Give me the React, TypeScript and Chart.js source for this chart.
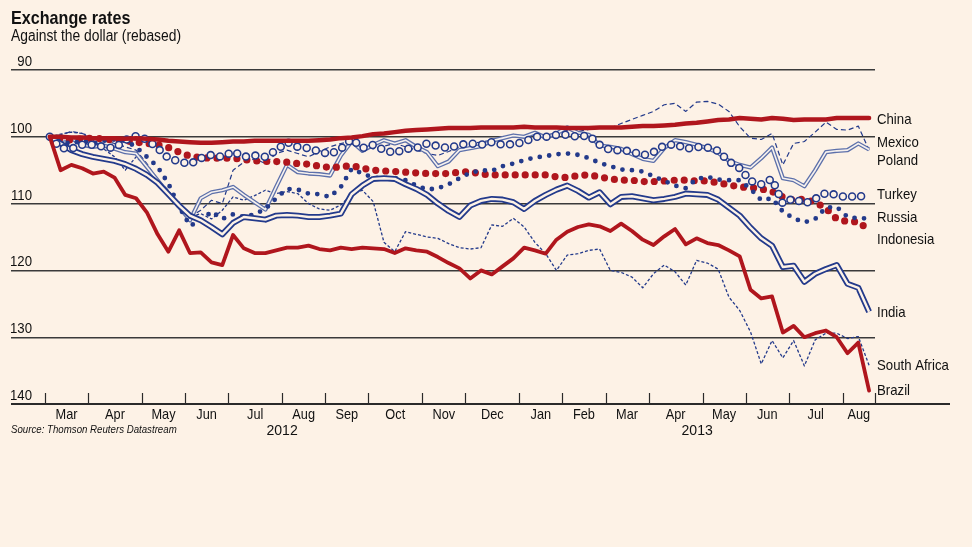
import React, { useEffect, useRef } from "react";
import { Chart, registerables } from "chart.js";

Chart.register(...registerables);

const FONT = '"Liberation Sans", Arial, sans-serif';
const BG = "#fdf2e6";
const RED = "#b0161d";
const BLUE = "#233a8b";
const POLAND_BLUE = "#5d70aa";
const INK = "#2a2a2a";

const TITLE = "Exchange rates";
const SUBTITLE = "Against the dollar (rebased)";
const SOURCE = "Source: Thomson Reuters Datastream";

// weekly observations, index 0 = first week of March 2012
const MONTH_LABELS = ["Mar", "Apr", "May", "Jun", "Jul", "Aug", "Sep", "Oct", "Nov", "Dec", "Jan", "Feb", "Mar", "Apr", "May", "Jun", "Jul", "Aug"];
const MONTH_BOUNDS = [0, 4, 9, 13, 17, 22, 26, 30, 35, 39, 44, 48, 52, 56, 61, 65, 69, 74, 77];
const YEAR_LABELS = ["2012", "2013"];
const YEAR_BOUNDS = [0, 44, 77];
const Y_MIN = 90;
const Y_MAX = 140;
const Y_STEP = 10;

const CHINA = [100, 100, 100.1, 100.1, 100.2, 100.2, 100.2, 100.3, 100.2, 100.3, 100.4, 100.6, 100.7, 100.8, 100.9, 100.9, 100.8, 100.7, 100.7, 100.6, 100.6, 100.6, 100.6, 100.6, 100.6, 100.5, 100.4, 100.2, 100.1, 99.9, 99.6, 99.5, 99.3, 99.1, 99.0, 98.9, 98.8, 98.7, 98.7, 98.7, 98.6, 98.6, 98.6, 98.6, 98.5, 98.6, 98.6, 98.6, 98.7, 98.7, 98.7, 98.6, 98.6, 98.6, 98.5, 98.4, 98.4, 98.3, 98.2, 98.0, 97.9, 97.7, 97.5, 97.4, 97.2, 97.3, 97.4, 97.2, 97.3, 97.5, 97.4, 97.4, 97.4, 97.2, 97.2, 97.2, 97.2];
const MEXICO = [100, 99.7, 99.2, 99.5, 100, 100.5, 101, 101.5, 102, 104, 106.5, 108, 110.5, 112, 111, 109.5, 110, 105, 103.8, 103.3, 104, 102.5, 102, 102.5, 103, 102.2, 101.5, 101, 100.7, 101.2, 101.8, 101.4, 101, 101.5, 102, 102.5, 102.8, 102.2, 101.5, 101, 100.8, 100.5, 100.2, 99.8, 100, 99.6, 99.8, 99.4, 99, 99.2, 98.9, 98.7, 98.7, 98, 97.4, 96.8, 96.2, 95.2, 95, 96.2, 94.8, 94.7, 95.1, 96.2, 98.5, 100.2, 100.4, 99.5, 104.2, 101, 100.7, 99.3, 97.8, 98.9, 99, 98.4, 102];
const POLAND = [100, 100.5, 100.2, 101.2, 101.5, 101.3, 101.8, 102.3, 102.5, 104.5, 106.5, 108.5, 110.5, 112.5, 109.2, 108.3, 108, 107.5, 108.7, 109.8, 110.9, 107.5, 104.2, 105.3, 105.5, 105.6, 105.8, 102.8, 100.7, 102.1, 101.2, 100.5, 101, 100.5, 101.5, 102.3, 104.4, 103.7, 102, 101.7, 101.4, 100.6, 100.2, 99.8, 100, 99.4, 100.1, 99.5, 98.6, 99.4, 99.7, 101.3, 101.5, 101.8, 102.6, 103.3, 103.6, 101.7, 100.5, 100.8, 101.2, 101.7, 102.4, 103.6, 104.2, 104.6, 103.2, 101.6, 106.2, 106.5, 107.4, 105, 102.3, 102.1, 102, 101, 101.9];
const TURKEY = [100, 101.7, 101.8, 101.2, 101.2, 101.5, 101.7, 100.5, 99.9, 100.4, 101.7, 103.2, 103.7, 104.1, 103.2, 102.7, 103, 102.2, 103, 102.8, 103, 102, 100.8, 101.5, 101.7, 102.2, 102.6, 101.8, 100.3, 101.7, 101.2, 102, 102.4, 101.8, 101.7, 101, 101.4, 101.7, 101.2, 101, 101.2, 100.8, 101.2, 101.1, 100.8, 100, 100, 99.7, 99.7, 100, 99.8, 101.2, 102, 102, 102.2, 102.8, 102.3, 101.3, 101.1, 101.8, 101.5, 101.6, 102.1, 103.7, 104.7, 106.6, 107.1, 106.3, 110, 109.2, 110, 109.3, 108.4, 108.7, 109.1, 108.7, 109.5];
const RUSSIA = [100, 100.8, 101, 100.6, 101, 100.6, 100.4, 100.6, 101.5, 103, 104.5, 107, 110.5, 113.3, 112.6, 111.2, 112.3, 111.6, 112, 111.6, 110.8, 109.2, 107.8, 107.9, 108.5, 108.6, 109, 107.5, 104.8, 105.5, 106.1, 106.2, 106.2, 106.5, 107.3, 107.9, 107.7, 107.1, 106.2, 105.4, 105, 105.1, 104.4, 104, 103.5, 103.1, 102.9, 102.6, 102.5, 102.7, 103.2, 103.9, 104.4, 104.9, 105, 105.2, 105.9, 106.6, 107.3, 107.7, 106.3, 106, 106.4, 106.5, 106.5, 107.8, 109.5, 109.2, 111.2, 112.2, 112.8, 112.3, 110.6, 110.5, 112, 112.2, 112.2];
const INDONESIA = [100, 100.3, 100.5, 100.3, 100.2, 100.3, 100.5, 100.6, 100.8, 101, 101.2, 101.6, 102.3, 102.9, 103.1, 103.2, 103.2, 103.2, 103.4, 103.6, 103.7, 103.7, 103.8, 104, 104.1, 104.4, 104.6, 104.5, 104.3, 104.7, 105, 105.1, 105.2, 105.3, 105.4, 105.5, 105.5, 105.5, 105.3, 105.2, 105.6, 105.7, 105.7, 105.7, 105.7, 105.7, 105.7, 106, 106.1, 105.8, 105.7, 106, 106.3, 106.5, 106.5, 106.7, 106.7, 106.6, 106.5, 106.5, 106.6, 106.6, 106.9, 107.2, 107.5, 107.6, 107.8, 108.2, 109, 109.5, 109.3, 109.8, 110.7, 112.3, 112.7, 112.7, 114];
const INDIA = [100, 101, 102, 102.6, 103, 103.3, 103.6, 104.1, 104.8, 105.7, 106.9, 108.6, 110.3, 111.8, 112.5, 113.5, 114.6, 112.9, 112, 112.2, 112.4, 111.8, 111.7, 111.8, 112, 112, 111.8, 111.5, 108.6, 107.3, 106.3, 106.2, 106.3, 107.1, 107.8, 108.7, 110, 111.1, 112, 110.3, 109.6, 109.3, 109.4, 109.8, 110.8, 109.6, 108.7, 107.9, 107.3, 108.1, 109.1, 108.3, 110.1, 109, 108.9, 109.2, 109.5, 109.3, 109, 108.5, 108.6, 108.7, 109.4, 110.6, 111.8, 113.6, 115.2, 116.3, 119.5, 119.3, 121.7, 120.5, 119.8, 119.2, 122, 122.6, 126.2];
const SOUTH_AFRICA = [100, 99.6, 99.3, 99.5, 100.5, 101.8, 103, 105, 103, 104.5, 107, 108.5, 110.5, 112, 111.5, 112.3, 111, 109, 109.5, 108.8, 108, 108.5, 108.2, 108.5, 110, 110.8, 111, 110.2, 108.6, 108, 109.7, 115.8, 117.2, 114.2, 114.6, 115, 115.2, 116, 116.6, 116.8, 116.6, 113.2, 113.4, 112.2, 113.5, 115.8, 117.5, 120, 117.7, 117.5, 117, 116.8, 120, 120.3, 121, 122.6, 120.5, 119.2, 120.2, 122.2, 118.5, 118.9, 119.8, 124, 126, 129.2, 134, 130.5, 133.1, 130.5, 134.3, 130.4, 129.4, 129.4, 130.2, 129.9, 134.2];
const BRAZIL = [100, 105, 104.2, 104.7, 105.5, 105.2, 106.1, 108.7, 109.2, 111.3, 114.6, 117.2, 114, 117.4, 117.3, 118.8, 119.2, 114.7, 116.7, 117.4, 117.4, 117, 116.6, 116.6, 116.3, 116.8, 117, 116.6, 116.8, 116.6, 116.7, 116.8, 117.4, 116.7, 117, 117.2, 118, 118.9, 119.7, 121.2, 120, 120.6, 119.4, 118.2, 116.6, 117, 117.5, 115.4, 114.2, 113.5, 113.1, 113.4, 114.1, 113, 114.1, 115.4, 116.2, 114.9, 113.8, 116.1, 115.2, 115.9, 116.2, 117, 117.9, 122.9, 124.2, 123.9, 129.3, 128.3, 130, 129.4, 129, 130, 132.4, 130.8, 138];

// x scale range (week index) and offset of month tick marks
const X_MIN = -3.6;
const X_MAX = 76.55;
const TICK_SHIFT = -0.45;

type Kind = "solid" | "dash" | "dots" | "rings" | "double";
interface Spec {
  name: string;
  values: number[];
  kind: Kind;
  color: string;
  width: number;
  inner?: number;
  innerColor?: string;
  dash?: number[];
  gap?: number;
  order: number;
  labelDy: number;
}

const SERIES: Spec[] = [
  { name: "China", values: CHINA, kind: "solid", color: RED, width: 4.5, order: 2, labelDy: 1.5 },
  { name: "Mexico", values: MEXICO, kind: "dash", color: BLUE, width: 1.2, dash: [5, 3], order: 19, labelDy: -7 },
  { name: "Poland", values: POLAND, kind: "double", color: POLAND_BLUE, width: 4.2, inner: 1.6, innerColor: "#f6f1ee", order: 18, labelDy: 11.5 },
  { name: "Turkey", values: TURKEY, kind: "rings", color: BLUE, width: 8.5, inner: 5.4, gap: 9.5, order: 8, labelDy: -5 },
  { name: "Russia", values: RUSSIA, kind: "dots", color: BLUE, width: 4.8, gap: 9.5, order: 14, labelDy: 0 },
  { name: "Indonesia", values: INDONESIA, kind: "dots", color: RED, width: 7.2, gap: 10, order: 15, labelDy: 10 },
  { name: "India", values: INDIA, kind: "double", color: BLUE, width: 6, inner: 2.4, innerColor: BG, order: 12, labelDy: 0.7 },
  { name: "South Africa", values: SOUTH_AFRICA, kind: "dash", color: BLUE, width: 1.3, dash: [3, 2], order: 20, labelDy: 1 },
  { name: "Brazil", values: BRAZIL, kind: "solid", color: RED, width: 3.8, order: 1, labelDy: 0 },
];

function buildDatasets() {
  const out: any[] = [];
  for (const s of SERIES) {
    const pts = s.values.map((v, i) => ({ x: i, y: v }));
    const base = {
      label: s.name,
      data: pts,
      pointRadius: 0,
      pointHoverRadius: 0,
      tension: 0,
      fill: false,
      borderJoinStyle: "round",
    };
    if (s.kind === "solid") {
      out.push({ ...base, borderColor: s.color, borderWidth: s.width, borderCapStyle: "round", order: s.order });
    } else if (s.kind === "dash") {
      out.push({ ...base, borderColor: s.color, borderWidth: s.width, borderDash: s.dash, order: s.order });
    } else if (s.kind === "dots") {
      out.push({ ...base, borderColor: s.color, borderWidth: s.width, borderDash: [0, s.gap], borderCapStyle: "round", order: s.order });
    } else if (s.kind === "rings") {
      out.push({ ...base, borderColor: s.color, borderWidth: s.width, borderDash: [0, s.gap], borderCapStyle: "round", order: s.order });
      out.push({ ...base, label: s.name + " (inner)", borderColor: BG, borderWidth: s.inner, borderDash: [0, s.gap], borderCapStyle: "round", order: s.order - 0.5 });
    } else if (s.kind === "double") {
      out.push({ ...base, borderColor: s.color, borderWidth: s.width, borderCapStyle: "butt", order: s.order });
      out.push({ ...base, label: s.name + " (inner)", borderColor: s.innerColor, borderWidth: s.inner, borderCapStyle: "butt", order: s.order - 0.5 });
    }
  }
  return out;
}

// condensed text: the reference face is a narrow grotesque, so squeeze horizontally
function text(ctx: CanvasRenderingContext2D, str: string, x: number, y: number, font: string, align: CanvasTextAlign, sx: number, baseline: CanvasTextBaseline = "alphabetic") {
  ctx.save();
  ctx.font = font;
  ctx.textAlign = align;
  ctx.textBaseline = baseline;
  ctx.translate(x, y);
  ctx.scale(sx, 1);
  ctx.fillText(str, 0, 0);
  ctx.restore();
}

const decorPlugin = {
  id: "decor",
  beforeDraw(chart: any) {
    const { ctx, width, height } = chart;
    ctx.save();
    ctx.fillStyle = BG;
    ctx.fillRect(0, 0, width, height);
    ctx.restore();
  },
  afterDraw(chart: any) {
    const { ctx, chartArea } = chart;
    const xs = chart.scales.x;
    const ys = chart.scales.y;
    ctx.save();
    ctx.fillStyle = "#111";
    text(ctx, TITLE, 11, 24, `bold 19px ${FONT}`, "left", 0.85);
    text(ctx, SUBTITLE, 11, 41, `16px ${FONT}`, "left", 0.865);

    // y tick labels, sitting above their grid lines
    for (const t of ys.ticks) {
      const py = ys.getPixelForValue(t.value);
      text(ctx, String(t.value), 32, py - 4, `15px ${FONT}`, "right", 0.88);
    }

    const yb = Math.round(ys.getPixelForValue(Y_MAX));
    ctx.strokeStyle = INK;
    ctx.lineWidth = 2;
    ctx.beginPath();
    ctx.moveTo(chartArea.left, yb);
    ctx.lineTo(950, yb);
    ctx.stroke();

    ctx.lineWidth = 1.2;
    for (const w of MONTH_BOUNDS) {
      const px = Math.round(xs.getPixelForValue(w + TICK_SHIFT)) + 0.5;
      ctx.beginPath();
      ctx.moveTo(px, yb - 11);
      ctx.lineTo(px, yb);
      ctx.stroke();
    }

    MONTH_LABELS.forEach((m, k) => {
      const a = xs.getPixelForValue(MONTH_BOUNDS[k] + TICK_SHIFT);
      const b = xs.getPixelForValue(MONTH_BOUNDS[k + 1] + TICK_SHIFT);
      text(ctx, m, (a + b) / 2, yb + 15, `14.5px ${FONT}`, "center", 0.88);
    });
    YEAR_LABELS.forEach((yl, k) => {
      const a = xs.getPixelForValue(YEAR_BOUNDS[k] + TICK_SHIFT);
      const b = xs.getPixelForValue(YEAR_BOUNDS[k + 1] + TICK_SHIFT);
      text(ctx, yl, (a + b) / 2, yb + 31, `14.5px ${FONT}`, "center", 0.97);
    });

    text(ctx, SOURCE, 11, yb + 29, `italic 11px ${FONT}`, "left", 0.88);

    for (const s of SERIES) {
      const v = s.values[s.values.length - 1];
      const py = ys.getPixelForValue(v) + s.labelDy;
      text(ctx, s.name, chartArea.right + 2, py, `14.5px ${FONT}`, "left", 0.91, "middle");
    }
    ctx.restore();
  },
};

export default function App() {
  const ref = useRef<HTMLCanvasElement | null>(null);
  useEffect(() => {
    if (!ref.current) return;
    Chart.defaults.font.family = FONT;
    const chart = new Chart(ref.current, {
      type: "line",
      data: { datasets: buildDatasets() },
      options: {
        responsive: false,
        animation: false,
        events: [],
        layout: { padding: { left: 11, right: 97, top: 70, bottom: 143 } },
        plugins: { legend: { display: false }, tooltip: { enabled: false }, title: { display: false } },
        scales: {
          x: { type: "linear", display: false, min: X_MIN, max: X_MAX },
          y: {
            type: "linear",
            reverse: true,
            min: Y_MIN,
            max: Y_MAX,
            border: { display: false },
            grid: { color: "#3a3a3a", lineWidth: 1.4, drawTicks: false },
            ticks: { stepSize: Y_STEP, display: false, padding: 0 },
          },
        },
      },
      plugins: [decorPlugin],
    } as any);
    return () => chart.destroy();
  }, []);
  return (
    <div style={{ position: "fixed", left: 0, top: 0, width: 972, height: 547, background: BG }}>
      <canvas ref={ref} width={972} height={547} style={{ display: "block" }} />
    </div>
  );
}
